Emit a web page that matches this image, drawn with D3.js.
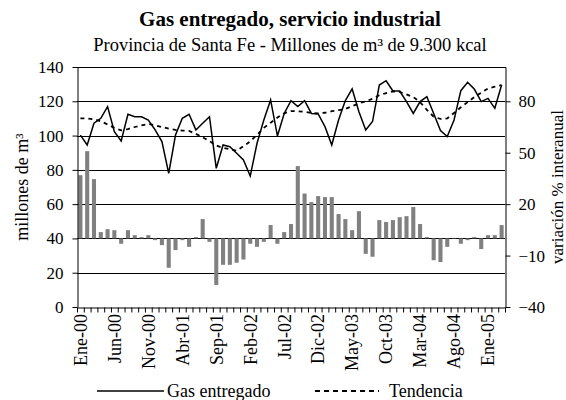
<!DOCTYPE html>
<html><head><meta charset="utf-8">
<script src="https://cdn.jsdelivr.net/npm/d3@7"></script>
<style>
body{margin:0;background:#fff;}
svg{display:block;}
svg text{font-family:"Liberation Serif","Times New Roman",serif;fill:#000;}
</style></head>
<body><svg id="c" width="566" height="400"></svg>
<script>
const monthNames = ["Ene","Feb","Mar","Abr","May","Jun","Jul","Ago","Sep","Oct","Nov","Dic"];
const years = ["00","01","02","03","04","05"];
const categories = [];
years.forEach(y => monthNames.forEach(m => categories.push(m + "-" + y)));
categories.length = 63; // Ene-00 .. Mar-05

const gasEntregado = [100.3,94.5,107.2,110.1,116.9,102.3,96.8,112.4,111,111,109.1,103.3,
  96.5,78,100.3,110.1,112.4,103.3,107.2,111,80.9,94.5,93.5,89.7,
  85.8,76.4,95.5,109.1,120.8,99.8,112.9,120.4,116.9,120.4,112.9,112.6,
  105.2,94.5,109.1,120.4,127.2,113.9,103.3,108.2,129.5,132,126,126,
  119.8,112.9,119.8,122.7,112.9,102.9,99.4,109.1,126.2,131.1,127,119.8,
  121.7,115.9,129.5];
const tendencia = [110,110,109.5,108.3,106.5,104.5,103,103.8,105,106,106.8,106,
  105,104,103.3,102.9,102.7,101,99,96.8,94.2,92.8,92,91.2,
  93.8,96.6,100.5,104.5,107.5,110.5,113,114.3,114.2,113.9,113.2,113,
  113.3,114.2,114.8,115.5,117.2,118.8,120,121.5,123.5,124.8,125.8,125.5,
  124,122.5,119.5,115,111,109.7,110,113.2,116.5,119.5,122.5,125,
  127.5,128.5,129.5];
const variacion = [36.9,50.9,34.6,3.7,5.4,4.8,-3.1,4.8,1.9,0.8,1.9,-1,
  -3.9,-17.1,-6.8,-1,-4.9,0.8,11.3,-2,-27.2,-15.4,-15.4,-14.2,
  -12.3,-3.1,-4.9,-2,7.8,-3.1,3.7,8.4,42.2,26.2,21.2,24.7,
  24.1,24.1,14.2,11.3,4.8,15.9,-9,-10.7,10.7,9.6,10.7,12.4,
  13,18.3,8.4,0.8,-12.7,-13.8,-4.9,0.3,-3.1,-1,0.8,-6.2,
  1.9,1.9,7.8];
const tickLabels = ["Ene-00","Jun-00","Nov-00","Abr-01","Sep-01","Feb-02","Jul-02","Dic-02","May-03","Oct-03","Mar-04","Ago-04","Ene-05"];
const leftTicks = [0,20,40,60,80,100,120,140];
const rightTicks = [-40,-10,20,50,80];

const L = 77, R = 505, T = 67, B = 307;
const svg = d3.select("#c");
const fs = "18px", fsTick = "17px";

const x = d3.scaleBand().domain(categories).range([L, R]).paddingInner(0.4).paddingOuter(0.2);
const xEdge = d3.scaleLinear().domain([0, categories.length]).range([L, R]);
const yL = d3.scaleLinear().domain([0, 140]).range([B, T]);
const yR = d3.scaleLinear().domain([-40, 100]).range([B, T]);
const cx = c => x(c) + x.bandwidth() / 2;

// gridlines
svg.append("g").selectAll("line").data(leftTicks.filter(v => v > 0 && v < 140))
  .join("line").attr("x1", L).attr("x2", R)
  .attr("y1", d => Math.round(yL(d)) + 0.5).attr("y2", d => Math.round(yL(d)) + 0.5)
  .attr("stroke", "#000").attr("stroke-width", 1);

// bars
svg.append("g").selectAll("rect").data(variacion)
  .join("rect")
  .attr("x", (d, i) => x(categories[i]))
  .attr("width", x.bandwidth())
  .attr("y", d => Math.min(yR(d), yR(0)))
  .attr("height", d => Math.abs(yR(d) - yR(0)))
  .attr("fill", "#808080");

// lines
const line = d3.line().x((d, i) => cx(categories[i])).y(d => yL(d));
svg.append("path").datum(tendencia).attr("d", line)
  .attr("fill", "none").attr("stroke", "#000").attr("stroke-width", 1.8)
  .attr("stroke-dasharray", "4,4");
svg.append("path").datum(gasEntregado).attr("d", line)
  .attr("fill", "none").attr("stroke", "#000").attr("stroke-width", 1.5);

// axes
const gL = svg.append("g").attr("transform", `translate(${L + 0.5},0)`)
  .call(d3.axisLeft(yL).tickValues(leftTicks).tickSize(5).tickSizeOuter(0).tickPadding(9));
const gR = svg.append("g").attr("transform", `translate(${R + 0.5},0)`)
  .call(d3.axisRight(yR).tickValues(rightTicks).tickSize(5).tickSizeOuter(0).tickPadding(8));
const gB = svg.append("g").attr("transform", `translate(0,${B + 0.5})`)
  .call(d3.axisBottom(xEdge).tickValues(d3.range(categories.length + 1)).tickSize(5).tickSizeOuter(0).tickFormat(""));
[gL, gR, gB].forEach(g => {
  g.attr("font-family", null).attr("font-size", null);
  g.selectAll("path,line").attr("stroke", "#000");
  g.selectAll("text").attr("font-size", fsTick);
});
// top border
svg.append("line").attr("x1", L).attr("x2", R + 1).attr("y1", T + 0.5).attr("y2", T + 0.5).attr("stroke", "#000");

// x labels
svg.append("g").selectAll("text").data(tickLabels).join("text")
  .attr("transform", d => `translate(${cx(d)},${B + 7}) rotate(-90)`)
  .attr("text-anchor", "end").attr("dy", "0.35em")
  .attr("font-size", fs).text(d => d);

// titles
svg.append("text").attr("x", 290).attr("y", 26).attr("text-anchor", "middle")
  .attr("font-weight", "bold").attr("font-size", "21px").text("Gas entregado, servicio industrial");
svg.append("text").attr("x", 290).attr("y", 51).attr("text-anchor", "middle")
  .attr("font-size", "18.5px").text("Provincia de Santa Fe - Millones de m³ de 9.300 kcal");

svg.append("text").attr("transform", `translate(28,${(T + B) / 2}) rotate(-90)`)
  .attr("text-anchor", "middle").attr("font-size", fs).text("millones de m³");
svg.append("text").attr("transform", `translate(563,${(T + B) / 2}) rotate(-90)`)
  .attr("text-anchor", "middle").attr("font-size", "17px").text("variación % interanual");

// legend
const ly = 391;
svg.append("line").attr("x1", 97).attr("x2", 164).attr("y1", ly).attr("y2", ly).attr("stroke", "#000").attr("stroke-width", 1.5);
svg.append("text").attr("x", 167).attr("y", ly + 6).attr("font-size", fs).text("Gas entregado");
svg.append("line").attr("x1", 315).attr("x2", 379).attr("y1", ly).attr("y2", ly).attr("stroke", "#000").attr("stroke-width", 1.8).attr("stroke-dasharray", "5,4");
svg.append("text").attr("x", 389).attr("y", ly + 6).attr("font-size", fs).text("Tendencia");
</script></body></html>
